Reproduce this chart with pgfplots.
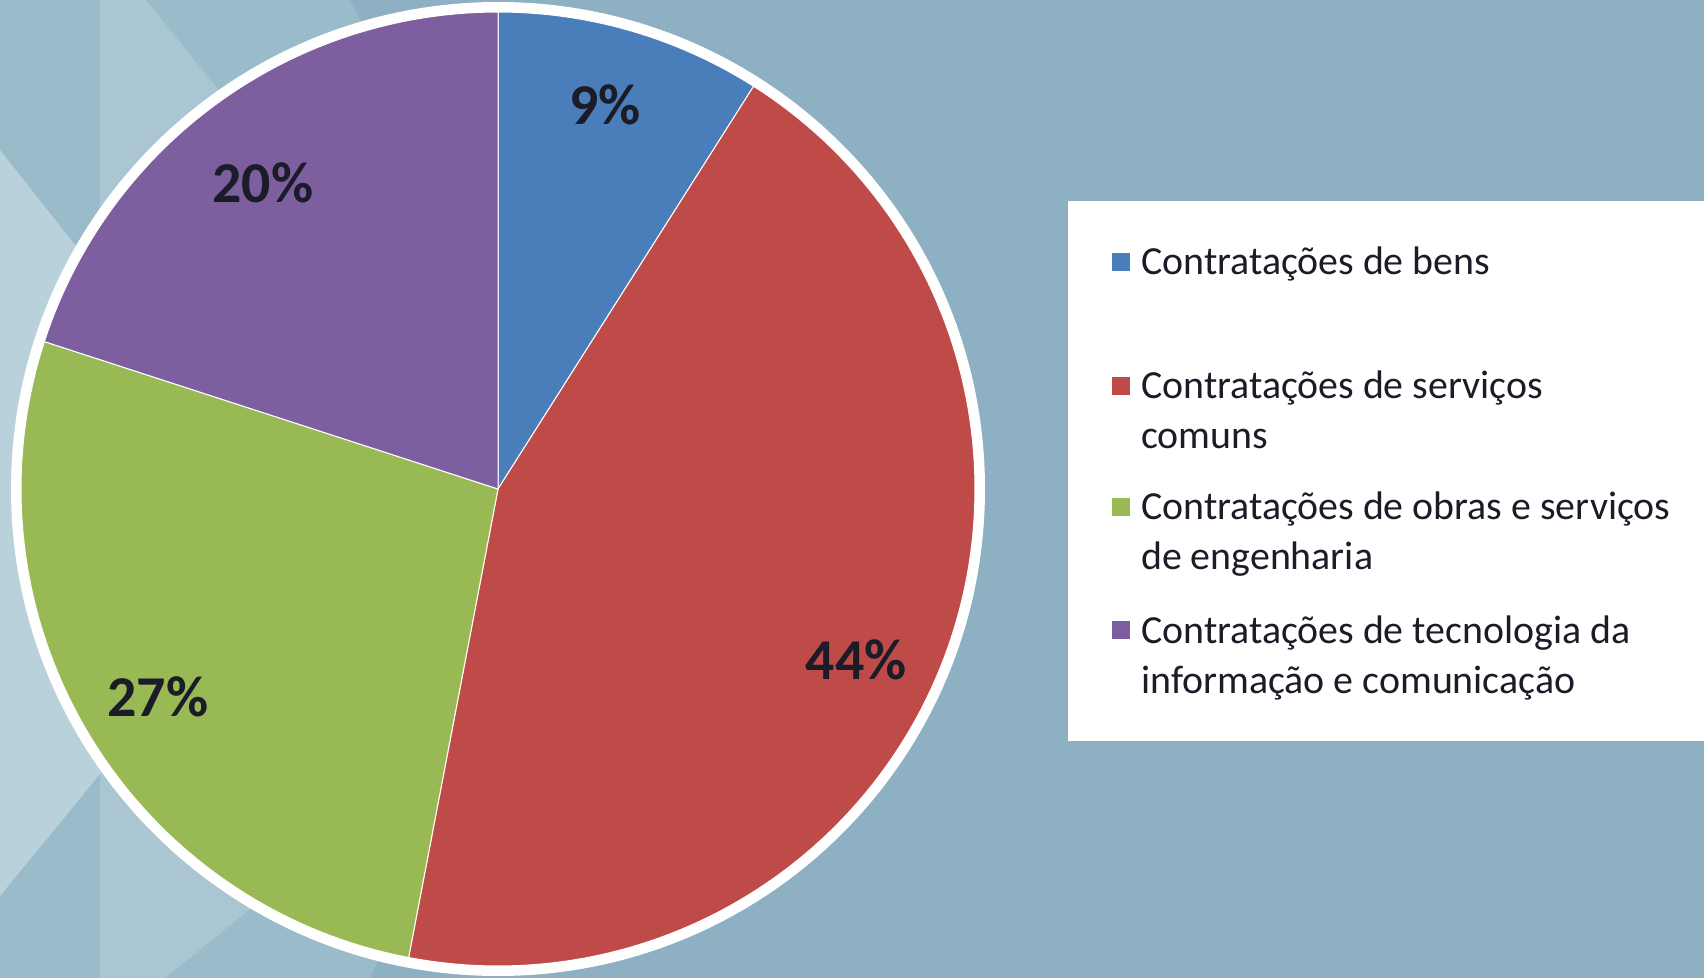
\documentclass[border=0pt]{standalone}
\usepackage{fontspec}
\setmainfont{Carlito}
\usepackage{pgfplots}
\usepackage{pgfplotstable}
\pgfplotsset{compat=1.18}
\definecolor{bg}{HTML}{8EB0C3}
\definecolor{bgmed}{HTML}{9ABBCA}
\definecolor{bgband}{HTML}{A9C6D2}
\definecolor{bglight}{HTML}{B9D1DB}
\definecolor{cA}{HTML}{4A7EBB}
\definecolor{cB}{HTML}{BE4B48}
\definecolor{cC}{HTML}{98B954}
\definecolor{cD}{HTML}{7D5FA0}
\definecolor{txt}{HTML}{1C1C28}
\pgfplotstableread{
label value
bens 9
servicos 44
obras 27
ti 20
}\piedata
\begin{document}%
\begin{tikzpicture}
\pgfplotstablegetelem{0}{value}\of\piedata \let\vA\pgfplotsretval
\pgfplotstablegetelem{1}{value}\of\piedata \let\vB\pgfplotsretval
\pgfplotstablegetelem{2}{value}\of\piedata \let\vC\pgfplotsretval
\pgfplotstablegetelem{3}{value}\of\piedata \let\vD\pgfplotsretval
\pgfmathsetmacro\aA{90}
\pgfmathsetmacro\aB{\aA-\vA*3.6}
\pgfmathsetmacro\aC{\aB-\vB*3.6}
\pgfmathsetmacro\aD{\aC-\vC*3.6}
\pgfmathsetmacro\aE{\aD-\vD*3.6}
\useasboundingbox (0,0) rectangle (1704bp,978bp);
\clip (0,0) rectangle (1704bp,978bp);
\begin{scope}[x=1bp,y=1bp]
\fill[bg] (0,0) rectangle (1704,978);
\fill[bgmed] (0,978) -- (350,978) -- (600,489) -- (370,0) -- (0,0) -- cycle;
\fill[bgband] (100,978) -- (146,978) -- (540,489) -- (270,85) -- (165,0) -- (100,0) -- cycle;
\fill[bglight] (0,828) -- (300,448) -- (0,82) -- cycle;
\fill[white] (498,489) circle (487);
% legend box
\fill[white] (1068,237) rectangle (1704,777);
\end{scope}
\begin{axis}[at={(498bp,489bp)}, anchor=origin, x=477bp, y=477bp,
  xmin=-1, xmax=1, ymin=-1, ymax=1, hide axis, clip=false]
\addplot[fill=cA, draw=white, line width=1bp, domain=\aB:\aA, samples=60, variable=\t] ({cos(\t)},{sin(\t)}) -- (axis cs:0,0) -- cycle;
\addplot[fill=cB, draw=white, line width=1bp, domain=\aC:\aB, samples=120, variable=\t] ({cos(\t)},{sin(\t)}) -- (axis cs:0,0) -- cycle;
\addplot[fill=cC, draw=white, line width=1bp, domain=\aD:\aC, samples=80, variable=\t] ({cos(\t)},{sin(\t)}) -- (axis cs:0,0) -- cycle;
\addplot[fill=cD, draw=white, line width=1bp, domain=\aE:\aD, samples=60, variable=\t] ({cos(\t)},{sin(\t)}) -- (axis cs:0,0) -- cycle;
\begin{scope}[every node/.style={font=\fontsize{58}{60}\selectfont\bfseries, text=txt}]
\node at (axis cs:0.224,0.805) {9\%};
\node at (axis cs:0.751,-0.358) {44\%};
\node at (axis cs:-0.713,-0.436) {27\%};
\node at (axis cs:-0.493,0.642) {20\%};
\end{scope}
\end{axis}
\begin{scope}[x=1bp,y=1bp, every node/.style={font=\fontsize{40}{50}\selectfont, text=txt, anchor=base west, inner sep=0pt}]
\fill[cA] (1112,707) rectangle (1130,725);
\fill[cB] (1112,583) rectangle (1130,601);
\fill[cC] (1112,462) rectangle (1130,480);
\fill[cD] (1112,339) rectangle (1130,357);
\node at (1141,703) {Contratações de bens};
\node at (1141,579) {Contratações de serviços};
\node at (1141,529) {comuns};
\node at (1141,458) {Contratações de obras e serviços};
\node at (1141,408) {de engenharia};
\node at (1141,335) {Contratações de tecnologia da};
\node at (1141,285) {informação e comunicação};
\end{scope}
\end{tikzpicture}%
\end{document}
